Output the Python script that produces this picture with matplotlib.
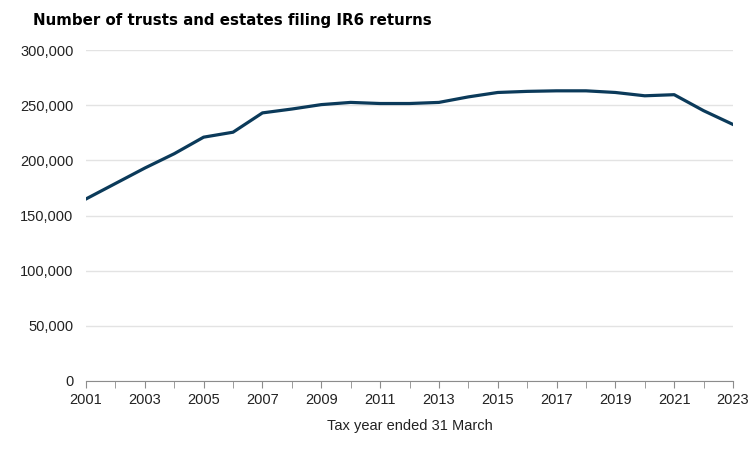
import matplotlib
matplotlib.use("Agg")
import matplotlib.pyplot as plt

# Tax year ended 31 March
years = list(range(2001, 2024))
returns = [165000, 179000, 193000, 206000, 221000, 225500, 243000, 246500,
           250500, 252500, 251500, 251500, 252500, 257500, 261500, 262500,
           263000, 263000, 261500, 258500, 259500, 245000, 232500]
yticks = [0, 50000, 100000, 150000, 200000, 250000, 300000]
xlabels = list(range(2001, 2024, 2))

plt.rcParams['font.family'] = ['Liberation Sans', 'DejaVu Sans']

fig = plt.figure(figsize=(7.56, 4.5), dpi=100)
ax = fig.add_axes([86/756, 69/450, (733-86)/756, (381-50)/450])

ax.plot(years, returns, color="#0b3a5a", linewidth=2.3, solid_joinstyle="round")

ax.set_xlim(2001, 2023)
ax.set_ylim(0, 300000)
ax.set_yticks(yticks)
ax.set_yticklabels(["{:,}".format(v) for v in yticks])
ax.set_xticks(years, minor=True)
ax.set_xticks(xlabels)
ax.set_xticklabels([str(y) for y in xlabels])

ax.grid(axis="y", color="#e3e3e3", linewidth=1)
ax.set_axisbelow(True)
for s in ["top", "right", "left"]:
    ax.spines[s].set_visible(False)
ax.spines["bottom"].set_color("#8c8c8c")
ax.tick_params(axis="y", length=0, labelsize=10.5, pad=9, colors="#222222")
ax.tick_params(axis="x", which="both", length=5, color="#8c8c8c",
               labelsize=10.5, pad=4, labelcolor="#222222")

ax.set_xlabel("Tax year ended 31 March", fontsize=10.5, color="#222222", labelpad=8)
fig.text(33/756, 1 - 20/450, "Number of trusts and estates filing IR6 returns",
         fontsize=10.8, fontweight="bold", va="center", ha="left",
         family="DejaVu Sans")

fig.savefig("out.png", dpi=100)
